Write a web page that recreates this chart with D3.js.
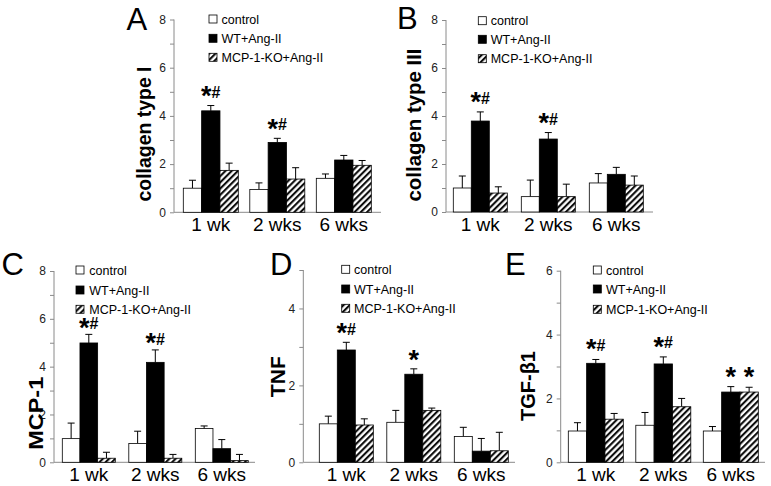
<!DOCTYPE html>
<html><head><meta charset="utf-8">
<script src="https://cdn.jsdelivr.net/npm/d3@7"></script>
<style>
html,body{margin:0;padding:0;background:#fff;}
svg{display:block;font-family:"Liberation Sans",Arial,sans-serif;}
</style></head>
<body>
<svg id="chart" width="771" height="486"></svg>
<script>
// ---------- data ----------
const weeks = ["1 wk", "2 wks", "6 wks"];
const series = ["control", "WT+Ang-II", "MCP-1-KO+Ang-II"];

// rows = weeks, columns = series
const colIMean  = [[1.00, 4.21, 1.74], [0.95, 2.90, 1.38], [1.41, 2.17, 1.95]];
const colIErr   = [[0.33, 0.22, 0.30], [0.27, 0.17, 0.47], [0.18, 0.19, 0.20]];
const colIMarks = [["", "*#", ""], ["", "*#", ""], ["", "", ""]];

const colIIIMean  = [[1.00, 3.79, 0.79], [0.64, 3.04, 0.64], [1.21, 1.57, 1.12]];
const colIIIErr   = [[0.50, 0.38, 0.26], [0.69, 0.27, 0.52], [0.39, 0.29, 0.38]];
const colIIIMarks = [["", "*#", ""], ["", "*#", ""], ["", "", ""]];

const mcpMean  = [[0.99, 4.99, 0.17], [0.79, 4.18, 0.17], [1.41, 0.57, 0.07]];
const mcpErr   = [[0.65, 0.36, 0.25], [0.51, 0.52, 0.16], [0.11, 0.38, 0.26]];
const mcpMarks = [["", "*#", ""], ["", "*#", ""], ["", "", ""]];

const tnfMean  = [[1.00, 2.92, 0.97], [1.04, 2.29, 1.35], [0.67, 0.29, 0.30]];
const tnfErr   = [[0.20, 0.20, 0.16], [0.31, 0.14, 0.06], [0.24, 0.33, 0.48]];
const tnfMarks = [["", "*#", ""], ["", "*", ""], ["", "", ""]];

const tgfMean  = [[0.98, 3.10, 1.35], [1.16, 3.08, 1.74], [0.98, 2.20, 2.20]];
const tgfErr   = [[0.26, 0.12, 0.18], [0.40, 0.22, 0.26], [0.14, 0.17, 0.15]];
const tgfMarks = [["", "*#", ""], ["", "*#", ""], ["", "*", "*"]];

const yMaxA = 8, yMaxB = 8, yMaxC = 8, yMaxD = 5, yMaxE = 6;

// ---------- layout (positions / styles) ----------
const panels = [
  {letter:"A", title:"collagen type I", mean:colIMean, err:colIErr, marks:colIMarks, yMax:yMaxA,
   x0:174, x1:381, yTop:19.5, y0:212.3, g0:183.3, step:66.5, band:55, markGap:8,
   lx:126.5, ly:29.5, tx:143.5, ty:134, tlen:135, legBox:209, legText:221.5, legRows:[19, 38.3, 57.3]},
  {letter:"B", title:"collagen type III", mean:colIIIMean, err:colIIIErr, marks:colIIIMarks, yMax:yMaxB,
   x0:446, x1:653, yTop:20, y0:212, g0:453.3, step:68, band:54, markGap:8,
   lx:397, ly:28.5, tx:413.5, ty:125, tlen:153, legBox:478.3, legText:490.7, legRows:[20.7, 39.3, 58.7]},
  {letter:"C", title:"MCP-1", mean:mcpMean, err:mcpErr, marks:mcpMarks, yMax:yMaxC,
   x0:54, x1:255, yTop:271, y0:462.3, g0:62.3, step:66.5, band:53, markGap:5,
   lx:1.5, ly:275, tx:35.5, ty:413.3, tlen:73, legBox:76, legText:89.3, legRows:[270, 290, 309.3]},
  {letter:"D", title:"TNF", mean:tnfMean, err:tnfErr, marks:tnfMarks, yMax:yMaxD,
   x0:303.3, x1:515, yTop:270, y0:462.3, g0:319.3, step:67.5, band:54, markGap:7.5,
   lx:270, ly:275, tx:277.5, ty:376.7, tlen:41, legBox:341.7, legText:354, legRows:[269.3, 289, 308.3]},
  {letter:"E", title:"TGF-β1", mean:tgfMean, err:tgfErr, marks:tgfMarks, yMax:yMaxE,
   x0:560.7, x1:765, yTop:270.7, y0:462.3, g0:568.3, step:67.5, band:55, markGap:8.5,
   lx:505, ly:275, tx:527.5, ty:386, tlen:70, legBox:593.3, legText:606, legRows:[270, 289, 309.3]}
];

const AXIS = "#8a8a8a";
const svg = d3.select("#chart");

// hatch pattern
const defs = svg.append("defs");
const pat = defs.append("pattern").attr("id", "hatch")
  .attr("patternUnits", "userSpaceOnUse").attr("width", 4.4).attr("height", 4.4)
  .attr("patternTransform", "rotate(45)");
pat.append("rect").attr("width", 4.4).attr("height", 4.4).attr("fill", "#fff");
pat.append("line").attr("x1", 1.1).attr("y1", 0).attr("x2", 1.1).attr("y2", 4.4)
  .attr("stroke", "#000").attr("stroke-width", 2);

const fills = ["#fff", "#000", "url(#hatch)"];

// significance mark: large asterisk lowered toward the baseline, '#' normal
function addMark(sel, x, yBase, m) {
  const t = sel.append("text").attr("x", x).attr("y", yBase)
    .attr("text-anchor", "middle").style("font-weight", "bold").attr("fill", "#000");
  let shift = 0;
  [...m].forEach(ch => {
    if (ch === "*") {
      t.append("tspan").style("font-size", "27px").attr("dy", 7.5 - shift).text("*");
      shift = 7.5;
    } else {
      t.append("tspan").style("font-size", "16px").attr("dy", 0 - shift).text(ch);
      shift = 0;
    }
  });
}

panels.forEach(p => {
  const g = svg.append("g");
  const y = d3.scaleLinear().domain([0, p.yMax]).range([p.y0, p.yTop]);
  const gap = p.step - p.band;
  const start = p.g0 - gap / 2;
  const x = d3.scaleBand().domain(weeks).range([start, start + weeks.length * p.step])
    .paddingInner(gap / p.step).paddingOuter(gap / p.step / 2);
  const xs = d3.scaleBand().domain(series).range([0, x.bandwidth()]);

  // y axis
  const ax = g.append("g").attr("transform", `translate(${p.x0},0)`)
    .call(d3.axisLeft(y).tickValues(d3.range(0, p.yMax + 1)).tickSize(4).tickPadding(4)
      .tickFormat(d => d % 2 === 0 ? d : ""));
  ax.select(".domain").attr("stroke", AXIS).attr("d", `M0,${p.y0}V${p.yTop}`);
  ax.selectAll(".tick line").attr("stroke", AXIS);
  ax.selectAll(".tick text").attr("fill", "#222").style("font-size", "12px")
    .style("font-family", "'Liberation Sans',Arial,sans-serif");

  // x axis line
  g.append("line").attr("x1", p.x0).attr("x2", p.x1).attr("y1", p.y0).attr("y2", p.y0)
    .attr("stroke", AXIS).attr("stroke-width", 1);

  // x labels
  g.selectAll(".xl").data(weeks).enter().append("text")
    .attr("x", d => x(d) + x.bandwidth() / 2).attr("y", p.y0 + 18.5)
    .attr("text-anchor", "middle").style("font-size", "19px").attr("fill", "#000").text(d => d);

  // bars
  weeks.forEach((w, wi) => {
    const gg = g.append("g").attr("transform", `translate(${x(w)},0)`);
    series.forEach((s, si) => {
      const v = p.mean[wi][si], e = p.err[wi][si];
      const bx = xs(s), bw = xs.bandwidth();
      const cx = bx + bw / 2;
      gg.append("line").attr("x1", cx).attr("x2", cx).attr("y1", y(v)).attr("y2", y(v + e))
        .attr("stroke", "#000").attr("stroke-width", 1);
      gg.append("line").attr("x1", cx - 3.5).attr("x2", cx + 3.5).attr("y1", y(v + e)).attr("y2", y(v + e))
        .attr("stroke", "#000").attr("stroke-width", 1);
      gg.append("rect").attr("x", bx).attr("y", y(v)).attr("width", bw).attr("height", p.y0 - y(v))
        .attr("fill", fills[si]).attr("stroke", "#000").attr("stroke-width", 0.8);
      const m = p.marks[wi][si];
      if (m) addMark(gg, cx, y(v + e) - p.markGap, m);
    });
  });

  // legend
  series.forEach((s, si) => {
    const ry = p.legRows[si];
    g.append("rect").attr("x", p.legBox).attr("y", ry - 4).attr("width", 8).attr("height", 8)
      .attr("fill", fills[si]).attr("stroke", "#000").attr("stroke-width", 0.8);
    g.append("text").attr("x", p.legText).attr("y", ry + 4.5)
      .style("font-size", "12.5px").attr("fill", "#000").text(s);
  });

  // panel letter
  g.append("text").attr("x", p.lx).attr("y", p.ly).style("font-size", "31px").attr("fill", "#000").text(p.letter);

  // y title
  g.append("text").attr("transform", `translate(${p.tx + 7.5},${p.ty}) rotate(-90)`)
    .attr("text-anchor", "middle").style("font-size", "21px").style("font-weight", "bold")
    .attr("textLength", p.tlen).attr("lengthAdjust", "spacingAndGlyphs")
    .attr("fill", "#000").text(p.title);
});
</script>
</body></html>
